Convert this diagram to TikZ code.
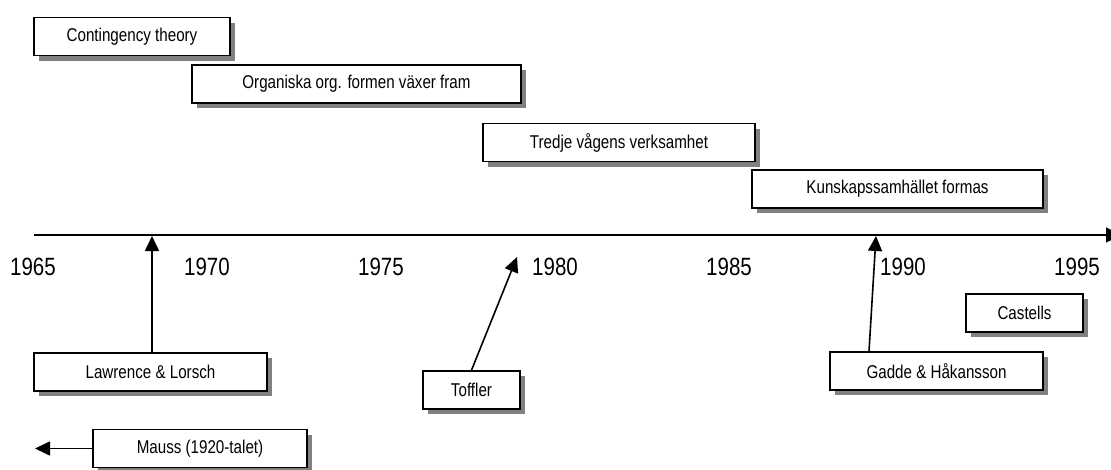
\documentclass[tikz,border=0pt]{standalone}
\usepackage{fontspec}
\setmainfont{Liberation Sans}[FakeStretch=0.82]
\usetikzlibrary{arrows.meta,shadows}
\begin{document}
\begin{tikzpicture}[x=1pt,y=-1pt,
  box/.style={draw, line width=1.6pt, fill=white, inner sep=0pt,
    minimum height=38pt, font=\fontsize{18.5}{21}\selectfont,
    general shadow={fill=black!50, shadow xshift=5pt, shadow yshift=-5pt}},
  year/.style={inner sep=0pt, font=\fontsize{25}{28}\selectfont},
  axis/.style={line width=1.6pt, -{Triangle[length=15pt,width=15pt]}},
  pointer/.style={line width=1.6pt, -{Triangle[length=15pt,width=14pt]}}]
\useasboundingbox (0,0) rectangle (1111,469);
\clip (0,0) rectangle (1111,469);

% periods above the time line
\node[box, minimum width=196pt] (cont) at (132,36.5)   {Contingency theory};
\node[box, minimum width=329pt] (org)  at (356.5,84)   {Organiska org. formen växer fram};
\node[box, minimum width=272pt] (tre)  at (619,142.5)  {Tredje vågens verksamhet};
\node[box, minimum width=291pt] (kun)  at (897.5,189)  {Kunskapssamhället formas};

% time line
\coordinate (axL) at (34,235);
\coordinate (axR) at (1121,235);
\draw[axis] (axL) -- (axR);

\foreach \yr [count=\i from 0] in {1965,1970,1975,1980,1985,1990,1995}
  \node[year] (y\yr) at (33+174*\i,267) {\yr};

% authors below the time line
\node[box, minimum width=233pt] (law) at (150.5,372)  {Lawrence \& Lorsch};
\node[box, minimum width=97pt]  (tof) at (471.5,390)  {Toffler};
\node[box, minimum width=213pt] (gad) at (936.5,371)  {Gadde \& Håkansson};
\node[box, minimum width=117pt] (cas) at (1024.5,313) {Castells};
\node[box, minimum width=214pt] (mau) at (200,448.5)  {Mauss (1920-talet)};

% pointers to the time line
\coordinate (t68) at (152,236);
\coordinate (t79) at (517,257);
\coordinate (t89) at (876,236);
\coordinate (past) at (35,448.5);
\draw[pointer] (law.north -| t68) -- (t68);
\draw[pointer] (tof.north) -- (t79);
\draw[pointer] ([xshift=-67.5pt]gad.north) -- (t89);
\draw[pointer] (mau.west) -- (past);
\end{tikzpicture}
\end{document}
